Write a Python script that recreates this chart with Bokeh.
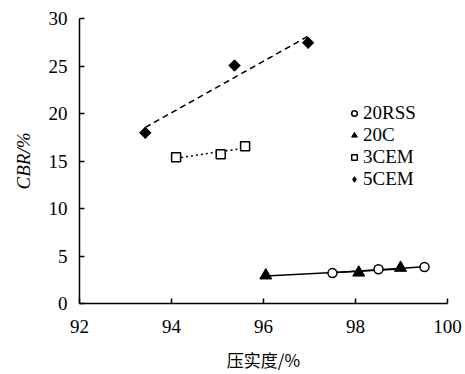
import numpy as np
from bokeh.plotting import figure
from bokeh.models import Range1d, FixedTicker, Legend, LegendItem
from bokeh.embed import file_html
from bokeh.resources import INLINE

# data
rss_x = [97.5, 98.5, 99.5]
rss_y = [3.2, 3.6, 3.85]
c20_x = [96.05, 98.07, 98.98]
c20_y = [2.95, 3.25, 3.75]
cem3_x = [94.1, 95.07, 95.6]
cem3_y = [15.4, 15.7, 16.55]
cem5_x = [93.43, 95.37, 96.97]
cem5_y = [17.97, 25.05, 27.45]

series_names = ["20RSS", "20C", "3CEM", "5CEM"]
x_ticks = [92, 94, 96, 98, 100]
y_ticks = [0, 5, 10, 15, 20, 25, 30]

FONT = "Liberation Serif"

p = figure(width=465, height=374, output_backend="svg", toolbar_location=None,
           x_range=Range1d(92, 100), y_range=Range1d(0, 30),
           min_border_left=79, min_border_right=18, min_border_top=18, min_border_bottom=69)
p.outline_line_color = None
p.background_fill_color = "white"
p.border_fill_color = "white"
p.grid.visible = False

for axes in (p.xaxis, p.yaxis):
    axes.axis_line_color = "black"
    axes.axis_line_width = 1.5
    axes.major_tick_line_color = "black"
    axes.major_tick_line_width = 1.5
    axes.major_tick_in = 5
    axes.major_tick_out = 0
    axes.minor_tick_line_color = None
    axes.major_label_text_font = FONT
    axes.major_label_text_font_size = "19px"
    axes.major_label_text_color = "black"
    axes.axis_label_text_color = "black"

p.xaxis.ticker = FixedTicker(ticks=x_ticks)
p.yaxis.ticker = FixedTicker(ticks=y_ticks)
p.xaxis.major_label_standoff = 16
p.yaxis.major_label_standoff = 12

p.xaxis.axis_label = "压实度/%"
p.xaxis.axis_label_text_font = "Noto Sans CJK SC"
p.xaxis.axis_label_text_font_size = "17px"
p.xaxis.axis_label_text_font_style = "normal"
p.xaxis.axis_label_standoff = 11

p.yaxis.axis_label = "CBR/%"
p.yaxis.axis_label_text_font = FONT
p.yaxis.axis_label_text_font_size = "19px"
p.yaxis.axis_label_text_font_style = "italic"
p.yaxis.axis_label_standoff = 12


def trend(xs, ys, dash):
    k, b = np.polyfit(xs, ys, 1)
    x0, x1 = min(xs), max(xs)
    p.line([x0, x1], [k * x0 + b, k * x1 + b], line_color="black",
           line_width=1.5, line_dash=dash)


trend(cem5_x, cem5_y, "6 4")
trend(cem3_x, cem3_y, "2 3")
trend(c20_x, c20_y, "solid")
trend(rss_x, rss_y, "solid")

r_rss = p.scatter(rss_x, rss_y, marker="circle", size=9, fill_color="white",
                  line_color="black", line_width=1.5)
r_c20 = p.scatter(c20_x, c20_y, marker="triangle", size=12, fill_color="black",
                  line_color="black")
r_c3 = p.scatter(cem3_x, cem3_y, marker="square", size=9, fill_color="white",
                 line_color="black", line_width=1.5)
# diamond glyph (used by the legend); covered by the rotated square below
r_c5_leg = p.scatter(cem5_x, cem5_y, marker="diamond", size=11,
                     fill_color="black", line_color="black")
r_c5 = p.scatter(cem5_x, cem5_y, marker="square", angle=np.pi / 4, size=8,
                 fill_color="black", line_color="black")

legend = Legend(items=[
    LegendItem(label=series_names[0], renderers=[r_rss]),
    LegendItem(label=series_names[1], renderers=[r_c20]),
    LegendItem(label=series_names[2], renderers=[r_c3]),
    LegendItem(label=series_names[3], renderers=[r_c5_leg]),
], location=(268, 113))
legend.border_line_color = None
legend.background_fill_alpha = 0
legend.padding = 0
legend.margin = 0
legend.spacing = 0
legend.label_height = 22
legend.glyph_height = 22
legend.glyph_width = 14
legend.label_standoff = 2
legend.label_text_font = FONT
legend.label_text_font_size = "19px"
legend.label_text_color = "black"
p.add_layout(legend, "center")

open("out.html", "w").write(file_html(p, INLINE))
